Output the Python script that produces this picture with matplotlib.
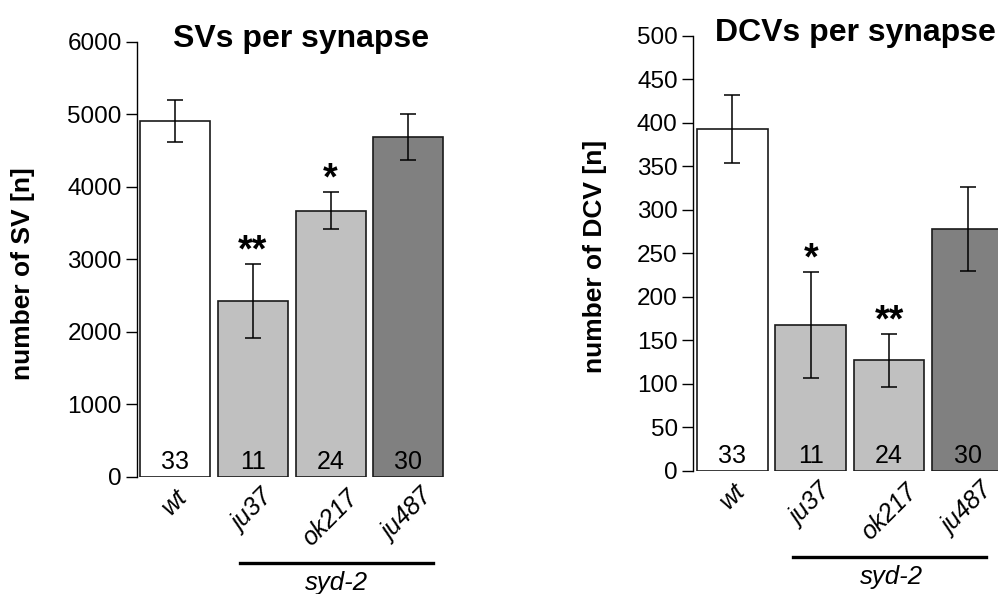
import matplotlib
matplotlib.use("Agg")
import matplotlib.pyplot as plt
import matplotlib.transforms as mtransforms

plt.rcParams['font.family'] = ['Liberation Sans', 'DejaVu Sans']

categories = ['wt', 'ju37', 'ok217', 'ju487']
n_counts = ['33', '11', '24', '30']
bar_colors = ['#ffffff', '#c0c0c0', '#c0c0c0', '#808080']

sv_means = [4910, 2430, 3670, 4690]
sv_err = [290, 510, 255, 320]
sv_stars = ['', '**', '*', '']

dcv_means = [393, 168, 127, 278]
dcv_err = [39, 61, 31, 48]
dcv_stars = ['', '*', '**', '']

fig = plt.figure(figsize=(9.98, 5.94), dpi=100)

def panel(rect, means, errs, stars, ymax, ystep, title, ylabel, xlim, ylab_xy, line_x, text_x):
    ax = fig.add_axes(rect)
    x = list(range(len(categories)))
    ax.bar(x, means, width=0.9, color=bar_colors, edgecolor='#1a1a1a', linewidth=1.2, zorder=2)
    ax.errorbar(x, means, yerr=errs, fmt='none', ecolor='black', elinewidth=1.1,
                capsize=5.8, capthick=1.1, zorder=3)
    for xi, m, e, s in zip(x, means, errs, stars):
        if s:
            ax.annotate(s, (xi, m + e), xytext=(0, -4), textcoords='offset points',
                        ha='center', va='bottom', fontsize=27, fontweight='bold')
    for xi, n in zip(x, n_counts):
        ax.text(xi, ymax * 0.008, n, ha='center', va='bottom', fontsize=18, zorder=4)
    ax.set_ylim(0, ymax)
    ax.set_xlim(*xlim)
    ax.set_yticks(list(range(0, ymax + 1, ystep)))
    ax.tick_params(axis='y', direction='out', length=8, width=1, labelsize=17.5, pad=3)
    ax.set_xticks(x)
    ax.set_xticklabels(categories, rotation=45, ha='center', va='top',
                       fontsize=18, style='italic')
    ax.tick_params(axis='x', length=0, pad=6)
    for sp in ['top', 'right', 'bottom']:
        ax.spines[sp].set_visible(False)
    ax.spines['left'].set_linewidth(1)
    ax.set_title(title, fontsize=23, fontweight='bold', pad=0, y=0.988)
    ax.set_ylabel(ylabel, fontsize=19, fontweight='bold')
    ax.yaxis.set_label_coords(*ylab_xy)
    trans = mtransforms.blended_transform_factory(ax.transData, ax.transAxes)
    ax.plot(line_x, [-0.198, -0.198], color='black', linewidth=2.4, transform=trans, clip_on=False)
    ax.text(text_x, -0.243, 'syd-2', transform=trans, ha='center', va='center',
            fontsize=18.5, style='italic')
    return ax

panel([0.1373, 0.197, 0.3287, 0.7323], sv_means, sv_err, sv_stars, 6000, 1000,
      'SVs per synapse', 'number of SV [n]', (-0.49, 3.73), (-0.31, 0.468),
      [0.836, 3.32], 2.08)
panel([0.6944, 0.2071, 0.3247, 0.7323], dcv_means, dcv_err, dcv_stars, 500, 50,
      'DCVs per synapse', 'number of DCV [n]', (-0.50, 3.63), (-0.265, 0.494),
      [0.773, 3.23], 2.03)

fig.savefig('out.png', dpi=100)
